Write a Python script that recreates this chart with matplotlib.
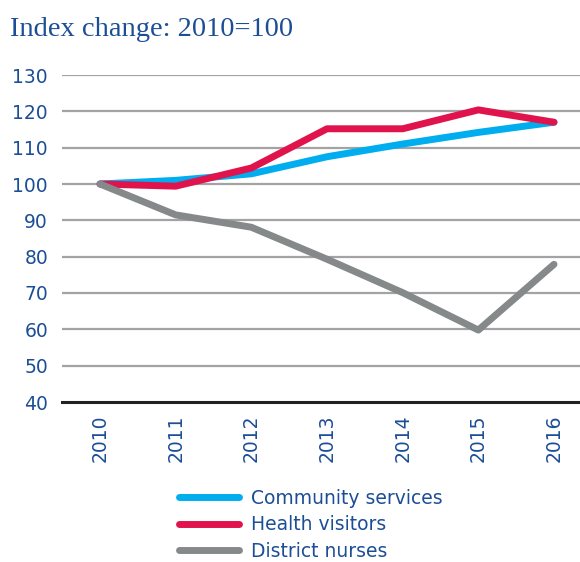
import matplotlib.pyplot as plt

years = [2010, 2011, 2012, 2013, 2014, 2015, 2016]
community = [100, 101, 102.8, 107.5, 111, 114.2, 117]
health = [100, 99.4, 104.4, 115.2, 115.2, 120.4, 117]
district = [100, 91.5, 88.1, 79.3, 70.1, 59.8, 77.9]
yticks = [40, 50, 60, 70, 80, 90, 100, 110, 120, 130]

txt = "#1c4e96"

fig = plt.figure(figsize=(5.8, 5.62), dpi=100)
ax = fig.add_axes([62 / 580, 1 - 402 / 562, 518 / 580, 327 / 562])

for t in yticks[1:]:
    ax.axhline(t, color="#a3a3a3", lw=1.6, zorder=1)
ax.axhline(40, color="#222222", lw=2.2, zorder=1, clip_on=False)

ax.plot(years, community, color="#00aeef", lw=5, solid_capstyle="round", zorder=3, label="Community services")
ax.plot(years, health, color="#e1134d", lw=5, solid_capstyle="round", zorder=4, label="Health visitors")
ax.plot(years, district, color="#858989", lw=5, solid_capstyle="round", zorder=5, label="District nurses")

ax.set_ylim(40, 130)
ax.set_xlim(2010 - 38 / 75.67, 2016 + 26 / 75.67)
ax.set_yticks(yticks)
ax.set_xticks(years)
ax.set_xticklabels([str(y) for y in years], rotation=90)
for s in ax.spines.values():
    s.set_visible(False)
ax.tick_params(length=0, colors=txt, labelsize=13.5)
ax.tick_params(axis="y", pad=10)
ax.tick_params(axis="x", pad=9)

fig.text(10 / 580, 1 - 36 / 562, "Index change: 2010=100", family="Liberation Serif",
         fontsize=20.5, color=txt)

leg = fig.legend(loc="upper left", bbox_to_anchor=(162 / 580, 1 - 472 / 562), frameon=False,
                 fontsize=13.5, handlelength=3.2, handletextpad=0.65, labelspacing=0.4,
                 labelcolor=txt)

fig.savefig("out.png", dpi=100)
